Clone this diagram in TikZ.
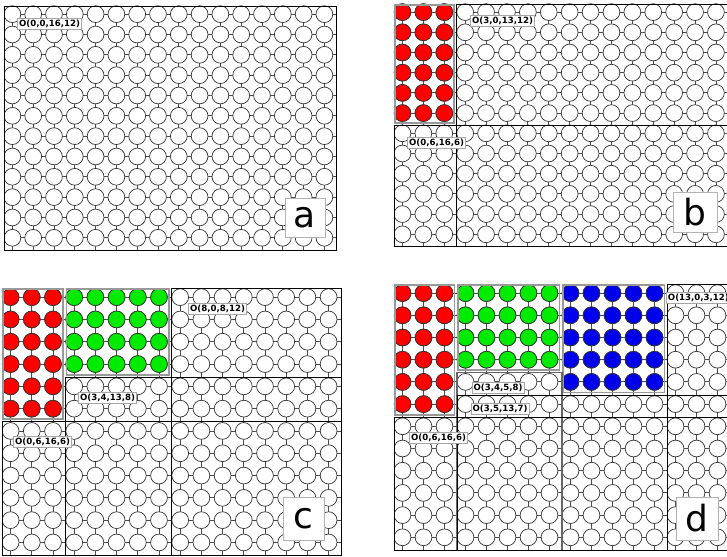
\documentclass[tikz,border=0pt]{standalone}
\usepackage{fontspec}
\setmainfont{DejaVu Sans}
\newfontfamily\lblfont{DejaVu Sans}
\definecolor{pered}{RGB}{255,0,0}
\definecolor{pegreen}{RGB}{0,235,0}
\definecolor{peblue}{RGB}{0,0,235}
\tikzset{
  link/.style={draw=black!70, line width=0.9pt},
  pe/.style={draw=black!80, fill=white, line width=0.7pt},
  zonebox/.style={draw=black!40, line width=1.8pt},
  freebox/.style={draw=black, line width=0.9pt},
  freegray/.style={draw=black!60, line width=1.2pt},
  olabel/.style={draw=black!35, fill=white, line width=0.7pt, inner sep=1.6pt,
    font=\lblfont\bfseries\fontsize{8.6}{9}\selectfont},
  letterbox/.style={draw=black!30, fill=white, line width=0.8pt, inner sep=0pt,
    font=\lblfont\fontsize{36}{36}\selectfont}
}
% grid of 16 x 12 nodes: x0 y0 sx sy
\newcommand\gridpanel[4]{%
  \begin{scope}
    \clip (#1,#2) rectangle ++({16*#3},{12*#4});
    \foreach \r in {0,...,11}{\draw[link] (#1,{#2+(\r+0.5)*#4-2}) -- ++({16*#3},0);}
    \foreach \c in {0,...,15}{\draw[link] ({#1+(\c+0.5)*#3-2},#2) -- ++(0,{12*#4});}
    \foreach \r in {0,...,11}{\foreach \c in {0,...,15}{%
      \draw[pe] ({#1+(\c+0.5)*#3-2},{#2+(\r+0.5)*#4-2}) circle[radius=8.4];}}
  \end{scope}}
% coloured block: x0 y0 sx sy c0 r0 ncols nrows colour
\newcommand\colorblock[9]{%
  \foreach \r in {1,...,#8}{\foreach \c in {1,...,#7}{%
    \draw[pe,fill=#9] ({#1+(#5+\c-0.5)*#3-2},{#2+(#6+\r-0.5)*#4-2}) circle[radius=8.4];}}}
% grey zone around a coloured block: x0 y0 sx sy c r w h
\newcommand\zonerect[8]{%
  \draw[zonebox] ({#1+#5*#3+0.8},{#2+#6*#4+0.8}) rectangle ({#1+(#5+#7)*#3-2.5},{#2+(#6+#8)*#4-2.5});}
% free region rectangle: x0 y0 sx sy c r w h style
\newcommand\freerect[9]{%
  \draw[#9] ({#1+#5*#3},{#2+#6*#4}) rectangle ({#1+(#5+#7)*#3},{#2+(#6+#8)*#4});}
\begin{document}
\begin{tikzpicture}[x=1pt,y=-1pt]
\path[use as bounding box] (0,0) rectangle (727,556);
\clip (0,0) rectangle (727,556);
\fill[white] (0,0) rectangle (727,556);

% ---------------- panel a
\gridpanel{4}{6}{20.8}{20.33}
\freerect{4}{6}{20.8}{20.33}{0}{0}{16}{12}{freebox}
\node[olabel] (la1) at (49.5,24) {O(0,0,16,12)};
\node[letterbox, minimum width=40pt, minimum height=39pt] (pa) at (305,217.5) {a};

% ---------------- panel b
\gridpanel{394}{4}{20.9}{20.2}
\colorblock{394}{4}{20.9}{20.2}{0}{0}{3}{6}{pered}
\zonerect{394}{4}{20.9}{20.2}{0}{0}{3}{6}
\freerect{394}{4}{20.9}{20.2}{3}{0}{13}{12}{freebox}
\freerect{394}{4}{20.9}{20.2}{0}{6}{16}{6}{freebox}
\node[olabel] (lb1) at (502.5,21) {O(3,0,13,12)};
\node[olabel] (lb2) at (436.5,143) {O(0,6,16,6)};
\node[letterbox, minimum width=44pt, minimum height=40pt] (pb) at (695,212) {b};

% ---------------- panel c
\gridpanel{2}{288}{21.2}{22.3}
\colorblock{2}{288}{21.2}{22.3}{0}{0}{3}{6}{pered}
\colorblock{2}{288}{21.2}{22.3}{3}{0}{5}{4}{pegreen}
\zonerect{2}{288}{21.2}{22.3}{0}{0}{3}{6}
\zonerect{2}{288}{21.2}{22.3}{3}{0}{5}{4}
\freerect{2}{288}{21.2}{22.3}{8}{0}{8}{12}{freebox}
\freerect{2}{288}{21.2}{22.3}{3}{4}{13}{8}{freebox}
\freerect{2}{288}{21.2}{22.3}{0}{6}{16}{6}{freebox}
\node[olabel] (lc1) at (217.5,309) {O(8,0,8,12)};
\node[olabel] (lc2) at (107.5,397.5) {O(3,4,13,8)};
\node[olabel] (lc3) at (42.5,441.5) {O(0,6,16,6)};
\node[letterbox, minimum width=41pt, minimum height=43pt] (pc) at (303.5,518.5) {c};

% ---------------- panel d
\gridpanel{394}{284}{21}{22.2}
\colorblock{394}{284}{21}{22.2}{0}{0}{3}{6}{pered}
\colorblock{394}{284}{21}{22.2}{3}{0}{5}{4}{pegreen}
\colorblock{394}{284}{21}{22.2}{8}{0}{5}{5}{peblue}
\zonerect{394}{284}{21}{22.2}{0}{0}{3}{6}
\zonerect{394}{284}{21}{22.2}{3}{0}{5}{4}
\zonerect{394}{284}{21}{22.2}{8}{0}{5}{5}
\freerect{394}{284}{21}{22.2}{13}{0}{3}{12}{freebox}
\freerect{394}{284}{21}{22.2}{3}{4}{5}{8}{freegray}
\freerect{394}{284}{21}{22.2}{3}{5}{13}{7}{freebox}
\freerect{394}{284}{21}{22.2}{0}{6}{16}{6}{freebox}
\node[olabel] (ld1) at (498,387.5) {O(3,4,5,8)};
\node[olabel] (ld2) at (500,409) {O(3,5,13,7)};
\node[olabel] (ld3) at (438.5,437.5) {O(0,6,16,6)};
\node[olabel, anchor=west] (ld4) at (666,297.5) {O(13,0,3,12)};
\node[letterbox, minimum width=42pt, minimum height=43pt] (pd) at (697,518.5) {d};
\end{tikzpicture}
\end{document}
